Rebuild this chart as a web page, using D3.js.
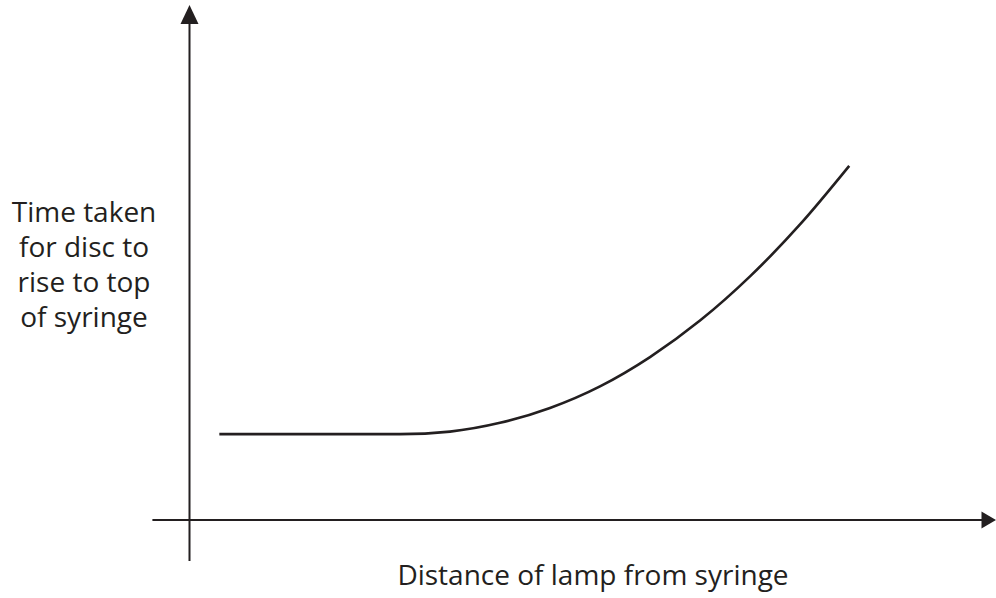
<!DOCTYPE html>
<html>
<head>
<meta charset="utf-8">
<script src="https://cdn.jsdelivr.net/npm/d3@7"></script>
<style>
  body { margin: 0; background: #fff; }
  svg text { font-family: "Open Sans", "Noto Sans", sans-serif; fill: #231f20; }
</style>
</head>
<body>
<div id="chart-area"></div>
<script>
// distance of lamp (arbitrary units, no ticks on the original)
const distance = [3.7, 26.1, 32.3, 38.5, 44.7, 50.9, 57.1, 63.3, 69.5, 75.7, 81.8];
// time taken for the disc to rise (arbitrary units)
const timeTaken = [16.7, 16.7, 17.2, 18.9, 21.8, 26.0, 31.7, 38.8, 47.4, 57.5, 68.9];

const yLabelLines = ["Time taken", "for disc to", "rise to top", "of syringe"];
const xLabel = "Distance of lamp from syringe";

const ink = "#231f20";
const width = 996, height = 598;

// origin of the axes sits at (189.5, 520)
let xScale = d3.scaleLinear().domain([0, 100]).range([189.5, 996]);
let yScale = d3.scaleLinear().domain([0, 100]).range([520, 6]);

let svg = d3
  .select("#chart-area")
  .append("svg")
  .attr("width", width)
  .attr("height", height);

// x axis with arrow
svg.append("line")
  .attr("x1", xScale(-4.6)).attr("x2", xScale(98.4))
  .attr("y1", yScale(0)).attr("y2", yScale(0))
  .attr("stroke", ink).attr("stroke-width", 2);
svg.append("path")
  .attr("d", d3.line()([
    [xScale(98.2), yScale(0) - 8.5],
    [xScale(100), yScale(0)],
    [xScale(98.2), yScale(0) + 8.5]
  ]) + "Z")
  .attr("fill", ink);

// y axis with arrow
svg.append("line")
  .attr("x1", xScale(0)).attr("x2", xScale(0))
  .attr("y1", yScale(96.5)).attr("y2", yScale(-8))
  .attr("stroke", ink).attr("stroke-width", 2);
svg.append("path")
  .attr("d", d3.line()([
    [xScale(0) - 9, yScale(96.5)],
    [xScale(0), yScale(100) - 1],
    [xScale(0) + 9, yScale(96.5)]
  ]) + "Z")
  .attr("fill", ink);

// the curve
let line = d3.line()
  .x((d, i) => xScale(distance[i]))
  .y(d => yScale(d))
  .curve(d3.curveMonotoneX);

svg.append("path")
  .datum(timeTaken)
  .attr("d", line)
  .attr("fill", "none")
  .attr("stroke", ink)
  .attr("stroke-width", 2.6);

// y label, four centred lines
svg.append("text")
  .attr("text-anchor", "middle")
  .attr("font-size", 28)
  .selectAll("tspan")
  .data(yLabelLines)
  .enter()
  .append("tspan")
  .attr("x", 84)
  .attr("y", (d, i) => 222 + i * 35)
  .text(d => d);

// x label
svg.append("text")
  .attr("text-anchor", "middle")
  .attr("font-size", 28)
  .attr("x", 593)
  .attr("y", 585)
  .text(xLabel);
</script>
</body>
</html>
